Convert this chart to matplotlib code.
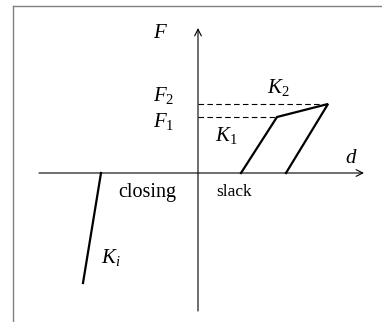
import matplotlib
matplotlib.use("Agg")
import matplotlib.pyplot as plt

plt.rcParams['mathtext.fontset'] = 'custom'
plt.rcParams['mathtext.it'] = 'Liberation Serif:italic'
plt.rcParams['mathtext.rm'] = 'Liberation Serif'
plt.rcParams['mathtext.default'] = 'it'

# data (conceptual d-F space, origin at axes crossing)
loop_d = [43, 79, 130, 88]
loop_F = [0, 56, 69, 0]
F1 = 56
F2 = 69
ki_d = [-97, -115]
ki_F = [0, -110]
xaxis_range = [-159, 166]
yaxis_range = [-138, 145]

labels = {
    r'$F$': (-37, 141, 15),
    r'$F_2$': (-34, 78, 15),
    r'$F_{\mathit{1}}$': (-34, 51, 15),
    r'$K_2$': (80, 85, 15),
    r'$K_{\mathit{1}}$': (28, 38, 15),
    r'$d$': (153, 16, 15),
    r'$K_i$': (-87, -85, 15),
}

fig = plt.figure(figsize=(3.82, 3.22), dpi=100)
ax = fig.add_axes([0, 0, 1, 1])
ax.set_xlim(-198, 184)
ax.set_ylim(-149, 173)
ax.axis('off')

# frame (left and top border)
ax.plot([-185, -185], [-149, 167], color='#808080', lw=1.0)
ax.plot([-185, 184], [167, 167], color='#808080', lw=1.0)

# axes with arrows
ax.annotate('', xy=(xaxis_range[1], 0), xytext=(xaxis_range[0], 0),
            arrowprops=dict(arrowstyle='->', color='black', lw=0.8,
                            mutation_scale=12, shrinkA=0, shrinkB=0))
ax.annotate('', xy=(0, yaxis_range[1]), xytext=(0, yaxis_range[0]),
            arrowprops=dict(arrowstyle='->', color='black', lw=0.8,
                            mutation_scale=12, shrinkA=0, shrinkB=0))

# dashed levels
ax.plot([0, loop_d[2]], [F2, F2], color='black', lw=0.8, ls=(0, (5, 3)))
ax.plot([0, loop_d[1]], [F1, F1], color='black', lw=0.8, ls=(0, (5, 3)))

# loop and closing line
ax.plot(loop_d, loop_F, color='black', lw=1.6, solid_joinstyle='miter')
ax.plot(ki_d, ki_F, color='black', lw=1.6)

for t, (x, y, s) in labels.items():
    ax.text(x, y, t, fontsize=s, ha='center', va='center')

ax.text(-51, -20, 'closing', fontsize=14.5, family='Liberation Serif',
        ha='center', va='center')
ax.text(36, -19, 'slack', fontsize=12.5, family='Liberation Serif',
        ha='center', va='center')

fig.savefig('out.png', dpi=100)
